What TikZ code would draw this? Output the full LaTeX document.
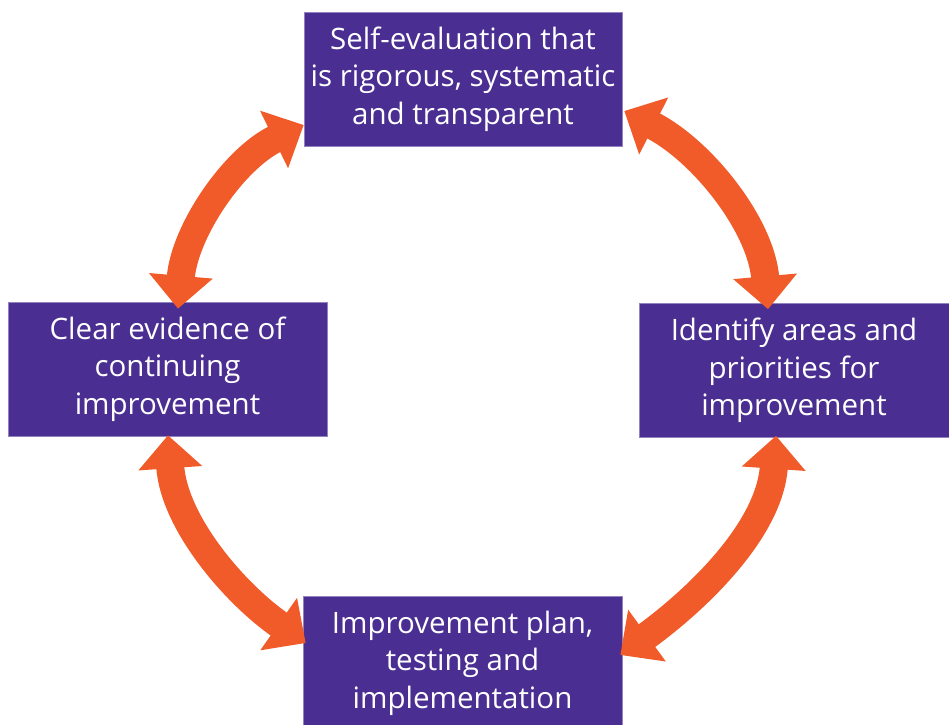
\documentclass[tikz,border=0pt]{standalone}
\usepackage{fontspec}
\setmainfont{Open Sans}
\usetikzlibrary{arrows.meta}
\usetikzlibrary{calc}

\definecolor{boxpurple}{RGB}{74,46,145}
\definecolor{arroworange}{RGB}{241,90,41}

\begin{document}
\begin{tikzpicture}[x=1pt,y=1pt]

	\def\bW{318} %box width in pt
	\def\bH{134} %box height in pt
	\def\sW{28} %arrow shaft width in pt
	\tikzset{
		stage/.style={fill=boxpurple, draw=boxpurple!60!white, line width=0.6pt, text=white, align=center,
			minimum width=\bW pt, minimum height=\bH pt, inner sep=0pt, font=\fontsize{29.5}{37.5}\selectfont},
		loopArrow/.style={arroworange, line width=\sW pt, looseness=0.9,
			{Triangle[width=62pt,length=33pt]}-{Triangle[width=62pt,length=33pt]}}
	}

	\useasboundingbox (0,0) rectangle (949,724);

	%stage boxes
	\node[stage] (selfeval) at (463,645) {Self-evaluation that\\is rigorous, systematic\\and transparent};
	\node[stage, minimum width=319pt] (evidence) at (167.5,355) {Clear evidence of\\continuing\\improvement};
	\node[stage, minimum width=310pt] (identify) at (794,353.5) {Identify areas and\\priorities for\\improvement};
	\node[stage, minimum width=319pt] (plan) at (462.5,61) {Improvement plan,\\testing and\\implementation};

	%two-way arrows round the cycle
	\draw[loopArrow] ($(evidence.north)+(10.5,-7)$) to[out=85,in=206] ($(selfeval.west)+(0,-46)$);
	\draw[loopArrow] ($(selfeval.east)+(2,-32)$) to[out=-27,in=95] ($(identify.north)+(-26,-6)$);
	\draw[loopArrow] ($(evidence.south)+(0.5,1)$) to[out=274,in=145] ($(plan.west)+(3,20)$);
	\draw[loopArrow] ($(identify.south)+(-18,2)$) to[out=266,in=36] ($(plan.east)+(-2,8)$);

\end{tikzpicture}
\end{document}
